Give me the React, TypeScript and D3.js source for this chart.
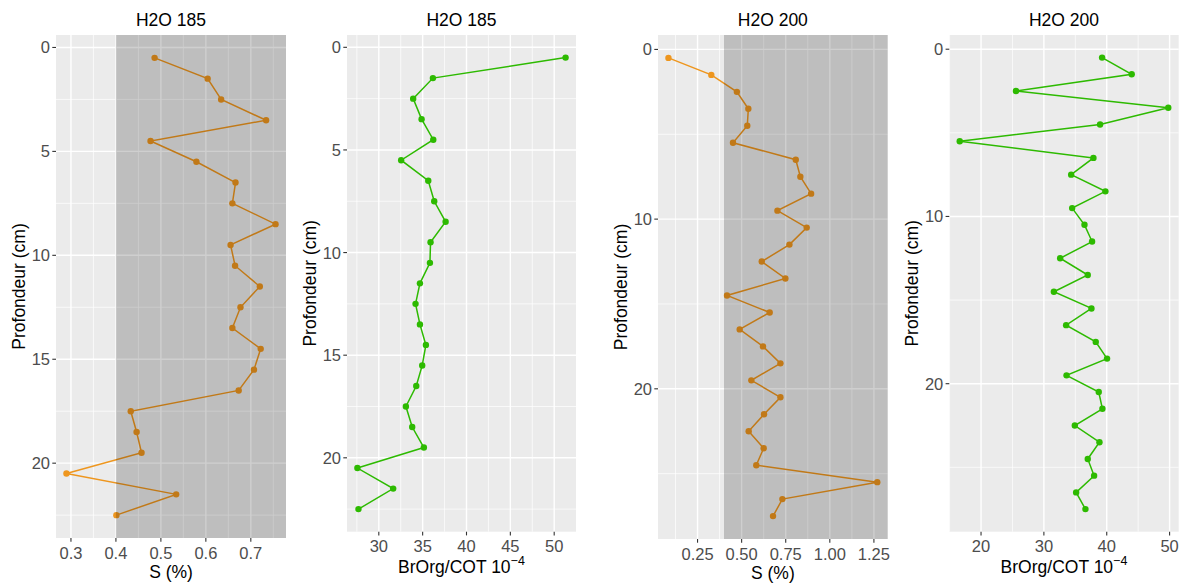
import React from "react";
import * as d3 from "d3";

// ---- data ----
const depth185 = [0.5,1.5,2.5,3.5,4.5,5.5,6.5,7.5,8.5,9.5,10.5,11.5,12.5,13.5,14.5,15.5,16.5,17.5,18.5,19.5,20.5,21.5,22.5];
const s185 = [0.486,0.604,0.634,0.734,0.477,0.579,0.666,0.659,0.755,0.655,0.665,0.720,0.677,0.659,0.722,0.707,0.673,0.433,0.446,0.457,0.290,0.534,0.401];
const br185 = [51.3,36.17,33.92,34.88,36.21,32.55,35.64,36.32,37.62,35.90,35.83,34.69,34.19,34.69,35.37,34.95,34.27,33.09,33.81,35.14,27.56,31.64,27.68];

const depth200 = [0.5,1.5,2.5,3.5,4.5,5.5,6.5,7.5,8.5,9.5,10.5,11.5,12.5,13.5,14.5,15.5,16.5,17.5,18.5,19.5,20.5,21.5,22.5,23.5,24.5,25.5,26.5,27.5];
const s200 = [0.085,0.328,0.473,0.538,0.532,0.451,0.807,0.833,0.894,0.703,0.869,0.771,0.614,0.748,0.417,0.659,0.489,0.621,0.720,0.555,0.720,0.627,0.540,0.625,0.583,1.269,0.731,0.678];
const br200 = [39.26,43.97,25.56,49.79,38.94,16.61,37.88,34.34,39.79,34.50,36.46,37.67,32.59,36.98,31.59,37.57,33.54,38.25,40.05,33.60,38.73,39.31,34.92,38.84,36.98,37.99,35.13,36.61];

const titles = ["H2O 185", "H2O 185", "H2O 200", "H2O 200"];
const yLabel = "Profondeur (cm)";
const xLabelS = "S (%)";
const xLabelBr = "BrOrg/COT 10";
const xLabelBrSup = "\u22124";

const ticksS185 = [0.3, 0.4, 0.5, 0.6, 0.7];
const ticksBr185 = [30, 35, 40, 45, 50];
const ticksS200 = [0.25, 0.5, 0.75, 1.0, 1.25];
const ticksBr200 = [20, 30, 40, 50];
const yTicks185 = [0, 5, 10, 15, 20];
const yTicks200 = [0, 10, 20];
const shadeThreshold = 0.4;

const ORANGE = "#EE961E";
const GREEN = "#2DBA00";
const FONT = "'Liberation Sans', Arial, Helvetica, sans-serif";
const TICK_FS = 16.5;

type Box = { l: number; r: number; t: number; b: number };

function minors(ticks: number[], dom: [number, number]) {
  const step = ticks[1] - ticks[0];
  const out: number[] = [];
  for (let v = ticks[0] - step / 2; v <= dom[1] + 1e-9; v += step / 2) {
    if (v >= dom[0] - 1e-9 && !ticks.some((t) => Math.abs(t - v) < 1e-9)) out.push(v);
  }
  return out.filter((v) => !ticks.some((t) => Math.abs(t - v) < step / 4));
}

function Panel(props: {
  title: string;
  xs: number[];
  ys: number[];
  color: string;
  shade: boolean;
  xTicks: number[];
  xFmt: (v: number) => string;
  yTicks: number[];
  box: Box;
  sup: boolean;
}) {
  const { title, xs, ys, color, shade, xTicks, xFmt, yTicks, box, sup } = props;
  const [x0, x1] = d3.extent(xs) as [number, number];
  const px = (x1 - x0) * 0.05;
  const xDom: [number, number] = [x0 - px, x1 + px];
  const x = d3.scaleLinear().domain(xDom).range([box.l, box.r]);
  const [y0, y1] = d3.extent(ys) as [number, number];
  const py = (y1 - y0) * 0.05;
  const yDom: [number, number] = [y0 - py, y1 + py];
  const y = d3.scaleLinear().domain(yDom).range([box.t, box.b]);
  const xMinor = minors(xTicks, xDom);
  const yMinor = minors(yTicks, yDom);
  const pts = xs.map((v, i) => [x(v), y(ys[i])] as [number, number]);
  const path = d3.line()(pts) || "";
  const cx = (box.l + box.r) / 2;
  const cy = (box.t + box.b) / 2;
  return (
    <g>
      <rect x={box.l} y={box.t} width={box.r - box.l} height={box.b - box.t} fill="#EBEBEB" />
      {xMinor.map((v, i) => (
        <line key={"xm" + i} x1={x(v)} x2={x(v)} y1={box.t} y2={box.b} stroke="#fff" strokeWidth={0.7} />
      ))}
      {yMinor.map((v, i) => (
        <line key={"ym" + i} y1={y(v)} y2={y(v)} x1={box.l} x2={box.r} stroke="#fff" strokeWidth={0.7} />
      ))}
      {xTicks.map((v, i) => (
        <line key={"xM" + i} x1={x(v)} x2={x(v)} y1={box.t} y2={box.b} stroke="#fff" strokeWidth={1.4} />
      ))}
      {yTicks.map((v, i) => (
        <line key={"yM" + i} y1={y(v)} y2={y(v)} x1={box.l} x2={box.r} stroke="#fff" strokeWidth={1.4} />
      ))}
      <path d={path} fill="none" stroke={color} strokeWidth={1.5} />
      {pts.map((p, i) => (
        <circle key={"p" + i} cx={p[0]} cy={p[1]} r={3.2} fill={color} />
      ))}
      {shade && (
        <rect x={x(shadeThreshold)} y={box.t} width={box.r - x(shadeThreshold)} height={box.b - box.t} fill="#000" fillOpacity={0.19} />
      )}
      {xTicks.map((v, i) => (
        <g key={"xt" + i}>
          <line x1={x(v)} x2={x(v)} y1={box.b} y2={box.b + 3.7} stroke="#333" strokeWidth={1.1} />
          <text x={x(v)} y={box.b + 20.5} textAnchor="middle" fontSize={TICK_FS} fill="#4D4D4D" fontFamily={FONT}>
            {xFmt(v)}
          </text>
        </g>
      ))}
      {yTicks.map((v, i) => (
        <g key={"yt" + i}>
          <line x1={box.l - 3.7} x2={box.l} y1={y(v)} y2={y(v)} stroke="#333" strokeWidth={1.1} />
          <text x={box.l - 6} y={y(v) + 6} textAnchor="end" fontSize={TICK_FS} fill="#4D4D4D" fontFamily={FONT}>
            {String(v)}
          </text>
        </g>
      ))}
      <text x={cx} y={26} textAnchor="middle" fontSize={17.5} fill="#000" fontFamily={FONT}>
        {title}
      </text>
      {sup ? (
        <text x={cx} y={box.b + 41.5} textAnchor="middle" fontSize={17.5} fill="#000" fontFamily={FONT}>
          {xLabelBr}
          <tspan dy={-8} fontSize={12.5}>{xLabelBrSup}</tspan>
        </text>
      ) : (
        <text x={cx} y={box.b + 39.5} textAnchor="middle" fontSize={17.5} fill="#000" fontFamily={FONT}>
          {xLabelS}
        </text>
      )}
      <text
        transform={`translate(${box.l - 31},${cy}) rotate(-90)`}
        textAnchor="middle"
        fontSize={17.5}
        fill="#000"
        fontFamily={FONT}
      >
        {yLabel}
      </text>
    </g>
  );
}

const fmt1 = (v: number) => v.toFixed(1);
const fmt2 = (v: number) => v.toFixed(2);
const fmt0 = (v: number) => String(v);

export default function App() {
  return (
    <svg
      width={1188}
      height={585}
      style={{ position: "absolute", left: 0, top: 0, background: "#fff" }}
    >
      <rect width={1188} height={585} fill="#fff" />
      <Panel title={titles[0]} xs={s185} ys={depth185} color={ORANGE} shade xTicks={ticksS185} xFmt={fmt1} yTicks={yTicks185} box={{ l: 56, r: 286, t: 35, b: 538 }} sup={false} />
      <Panel title={titles[1]} xs={br185} ys={depth185} color={GREEN} shade={false} xTicks={ticksBr185} xFmt={fmt0} yTicks={yTicks185} box={{ l: 347, r: 576, t: 35, b: 531.7 }} sup />
      <Panel title={titles[2]} xs={s200} ys={depth200} color={ORANGE} shade xTicks={ticksS200} xFmt={fmt2} yTicks={yTicks200} box={{ l: 658, r: 887.7, t: 35, b: 539 }} sup={false} />
      <Panel title={titles[3]} xs={br200} ys={depth200} color={GREEN} shade={false} xTicks={ticksBr200} xFmt={fmt0} yTicks={yTicks200} box={{ l: 949.3, r: 1178.7, t: 35, b: 531.7 }} sup />
    </svg>
  );
}
